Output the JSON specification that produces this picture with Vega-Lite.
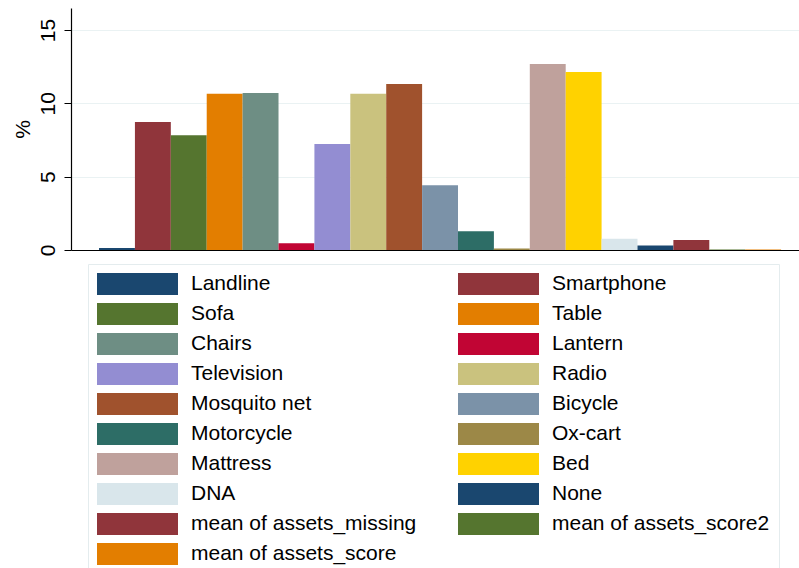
{
  "$schema": "https://vega.github.io/schema/vega-lite/v6.json",
  "width": 728,
  "height": 242,
  "autosize": {"type": "none"},
  "padding": {"left": 71, "top": 8, "right": 0, "bottom": 318},
  "background": "white",
  "data": {
    "values": [
      {"item": "Landline", "pct": 0.14},
      {"item": "Smartphone", "pct": 8.72},
      {"item": "Sofa", "pct": 7.82},
      {"item": "Table", "pct": 10.65},
      {"item": "Chairs", "pct": 10.71},
      {"item": "Lantern", "pct": 0.46},
      {"item": "Television", "pct": 7.22},
      {"item": "Radio", "pct": 10.65},
      {"item": "Mosquito net", "pct": 11.32},
      {"item": "Bicycle", "pct": 4.42},
      {"item": "Motorcycle", "pct": 1.27},
      {"item": "Ox-cart", "pct": 0.11},
      {"item": "Mattress", "pct": 12.68},
      {"item": "Bed", "pct": 12.14},
      {"item": "DNA", "pct": 0.77},
      {"item": "None", "pct": 0.3},
      {"item": "mean of assets_missing", "pct": 0.68},
      {"item": "mean of assets_score2", "pct": 0.03},
      {"item": "mean of assets_score", "pct": 0.03}
    ]
  },
  "mark": {"type": "bar"},
  "encoding": {
    "x": {
      "field": "item",
      "type": "nominal",
      "sort": null,
      "scale": {"paddingInner": 0, "paddingOuter": 0.64, "align": 0.61},
      "axis": {"labels": false, "ticks": false, "title": null, "grid": false, "domainColor": "black", "domainWidth": 1.2}
    },
    "y": {
      "field": "pct",
      "type": "quantitative",
      "scale": {"domain": [0, 16.5], "nice": false},
      "axis": {
        "values": [0, 5, 10, 15],
        "title": "%",
        "titleFontSize": 21,
        "titleFontWeight": "normal",
        "titleFont": "Liberation Sans",
        "titleColor": "black",
        "titlePadding": 4,
        "labelAngle": -90,
        "labelAlign": "center",
        "labelBaseline": "bottom",
        "labelFontSize": 21,
        "labelFont": "Liberation Sans",
        "labelColor": "black",
        "labelPadding": 6,
        "tickSize": 7,
        "tickColor": "black",
        "domainColor": "black",
        "domainWidth": 1.2,
        "gridColor": "#eaf2f3",
        "gridWidth": 1.2
      }
    },
    "color": {
      "field": "item",
      "type": "nominal",
      "sort": null,
      "scale": {
        "domain": ["Landline", "Smartphone", "Sofa", "Table", "Chairs", "Lantern", "Television", "Radio", "Mosquito net", "Bicycle", "Motorcycle", "Ox-cart", "Mattress", "Bed", "DNA", "None", "mean of assets_missing", "mean of assets_score2", "mean of assets_score"],
        "range": ["#1a476f", "#90353b", "#55752f", "#e37e00", "#6e8e84", "#c10534", "#938dd2", "#cac27e", "#a0522d", "#7b92a8", "#2d6d66", "#9c8847", "#bfa19c", "#ffd200", "#d9e6eb", "#1a476f", "#90353b", "#55752f", "#e37e00"]
      },
      "legend": {
        "orient": "none",
        "direction": "horizontal",
        "legendX": 17,
        "legendY": 256,
        "columns": 2,
        "title": null,
        "symbolType": "M-1,-0.2716L1,-0.2716L1,0.2716L-1,0.2716Z",
        "symbolSize": 6561,
        "symbolStrokeWidth": 0,
        "symbolOpacity": 1,
        "clipHeight": 22,
        "rowPadding": 8,
        "columnPadding": 41,
        "labelOffset": 13,
        "labelFontSize": 21,
        "labelFont": "Liberation Sans",
        "labelColor": "black",
        "labelLimit": 400,
        "padding": 9,
        "strokeColor": "#e4ecee",
        "fillColor": "white"
      }
    }
  },
  "config": {"view": {"stroke": null}, "font": "Liberation Sans"}
}
